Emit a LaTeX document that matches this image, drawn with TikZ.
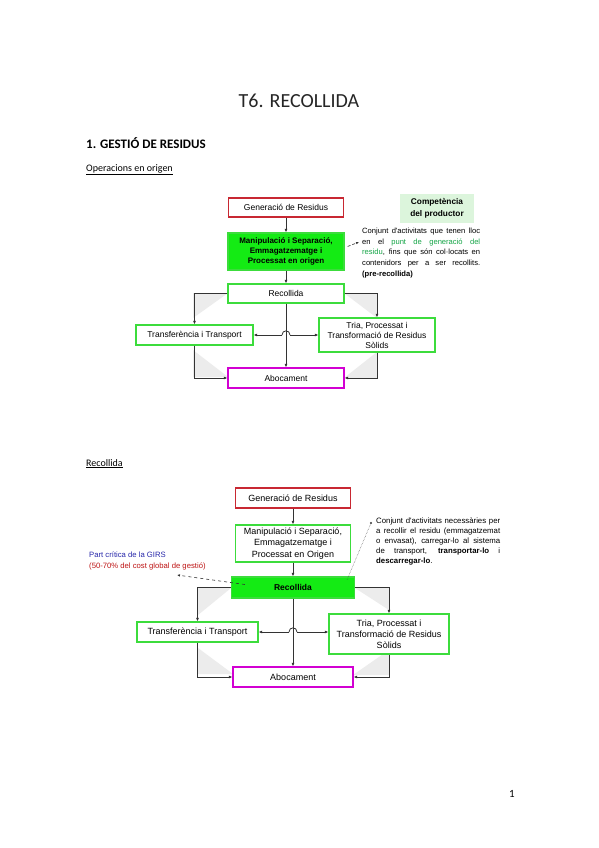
\documentclass[tikz,border=0pt]{standalone}
\usepackage{fontspec}
\setmainfont{Carlito}
\newfontfamily\arialf{Liberation Sans}
\usetikzlibrary{arrows.meta,calc}
\definecolor{bred}{RGB}{200,40,50}
\definecolor{gline}{RGB}{60,220,60}
\definecolor{gfill}{RGB}{20,235,20}
\definecolor{mline}{RGB}{210,0,210}
\definecolor{compfill}{RGB}{220,245,220}
\definecolor{tgreen}{RGB}{20,165,70}
\definecolor{tblue}{RGB}{40,40,170}
\definecolor{tred}{RGB}{190,20,20}
\definecolor{bgshade}{RGB}{236,236,236}
\tikzset{
  box/.style={draw, line width=1.3pt, fill=white, inner sep=0pt, align=center,
    minimum width=116pt, minimum height=19pt},
  fa/.style={font=\arialf\fontsize{8.5}{10}\selectfont},
  fb/.style={font=\arialf\fontsize{9}{11.2}\selectfont},
  redbox/.style={box, draw=bred},
  gbox/.style={box, draw=gline},
  mbox/.style={box, draw=mline},
  comp/.style={fill=compfill, inner sep=0pt, minimum width=74pt, minimum height=29pt,
    align=center, font=\arialf\bfseries\fontsize{8.3}{12}\selectfont},
  para/.style={anchor=north west, inner sep=0pt, align=left},
  conn/.style={draw=black!80, line width=0.8pt},
  arr/.style={conn, -{Latex[length=3.5pt,width=3pt]}},
  darr/.style={draw=black!80, line width=0.6pt, dashed, -{Latex[length=3pt,width=2.5pt]}},
  dotl/.style={draw=black!70, line width=0.5pt, densely dotted},
  corner/.style={fill=bgshade, draw=none},
}
\begin{document}
\begin{tikzpicture}[x=1pt,y=-1pt]
\useasboundingbox (0,0) rectangle (599,848);
\fill[white] (0,0) rectangle (599,848);

% headings
\node[anchor=base, font=\fontsize{20}{24}\selectfont, text=black!85, inner sep=0] (title) at (299,108) {T6. RECOLLIDA};
\node[anchor=base west, font=\bfseries\fontsize{13}{15}\selectfont, inner sep=0] (h1) at (86,148) {1. GESTIÓ DE RESIDUS};
\node[anchor=base west, font=\fontsize{10}{12}\selectfont, inner sep=0] (h2) at (86,171) {\underline{Operacions en origen}};
\node[anchor=base west, font=\fontsize{10}{12}\selectfont, inner sep=0] (h3) at (86,466) {\underline{Recollida}};
\node[anchor=base, font=\fontsize{11}{13}\selectfont, inner sep=0] (pnum) at (512,797) {1};

% ---------- diagram 1 ----------
\path[corner] (193,293) -- (228,293) -- (193,318) -- cycle;
\path[corner] (377,293) -- (344,293) -- (377,318) -- cycle;
\path[corner] (193,377) -- (228,377) -- (193,350) -- cycle;
\path[corner] (377,378) -- (344,378) -- (377,352) -- cycle;

\node[redbox, fa, minimum width=115pt] (gen1) at (286,207.5) {Generació de Residus};
\node[gbox, fill=gfill, font=\arialf\bfseries\fontsize{8}{10}\selectfont, minimum height=37pt] (man1) at (286,251.5) {Manipulació i Separació,\\Emmagatzematge i\\Processat en origen};
\node[gbox, fa] (rec1) at (286,293.5) {Recollida};
\node[gbox, fa, minimum width=117pt, minimum height=20pt] (tra1) at (194.5,335) {Transferència i Transport};
\node[gbox, fa, minimum height=34pt] (tri1) at (377,335) {Tria, Processat i\\Transformació de Residus\\Sòlids};
\node[mbox, fa, minimum height=20pt] (abo1) at (286,378) {Abocament};
\node[comp] (comp1) at (437,208) {Competència\\del productor};
\node[para, font=\arialf\fontsize{7.6}{10.8}\selectfont] (par1) at (362,227.5) {%
\makebox[118pt][s]{Conjunt d'activitats que tenen lloc}\\
\makebox[118pt][s]{en el \textcolor{tgreen}{punt de generació del}}\\
\makebox[118pt][s]{\textcolor{tgreen}{residu}, fins que són col·locats en}\\
\makebox[118pt][s]{contenidors per a ser recollits.}\\
\textbf{(pre-recollida)}};

\draw[arr] (gen1) -- (man1);
\draw[arr] (man1) -- (rec1);
\draw[arr] (rec1) -- (abo1);
\draw[arr] (rec1.west) -| (tra1.north);
\draw[arr] (rec1.east) -| (tri1.north);
\draw[arr] (tra1.south) |- (abo1.west);
\draw[arr] (tri1.south) |- (abo1.east);
\coordinate (hop1) at (286,335);
\draw[arr] ($(hop1)+(-4,0)$) -- (tra1.east |- hop1);
\draw[arr] ($(hop1)+(4,0)$) -- (tri1.west |- hop1);
\draw[conn] ($(hop1)+(-4,0)$) .. controls +(0,-5.5) and +(0,-5.5) .. ($(hop1)+(4,0)$);
\coordinate (d1) at (359,242);
\draw[darr, densely dashed] ($(man1.east)+(3,-5)$) -- (d1);

% ---------- diagram 2 ----------
\path[corner] (198,588) -- (231,588) -- (198,615) -- cycle;
\path[corner] (389,588) -- (355,588) -- (389,610) -- cycle;
\path[corner] (198,674) -- (233,674) -- (198,648) -- cycle;
\path[corner] (389,675) -- (353,675) -- (389,650) -- cycle;

\node[redbox, fb, minimum width=115pt, minimum height=20pt] (gen2) at (293,498) {Generació de Residus};
\node[gbox, fb, minimum width=115pt, minimum height=37pt] (man2) at (293,543.5) {Manipulació i Separació,\\Emmagatzematge i\\Processat en Origen};
\node[gbox, fill=gfill, font=\arialf\bfseries\fontsize{8.5}{10}\selectfont, minimum width=123pt, minimum height=21pt] (rec2) at (293,587.5) {Recollida};
\node[gbox, fb, minimum width=121pt, minimum height=20pt] (tra2) at (197.5,632) {Transferència i Transport};
\node[gbox, fb, minimum width=120pt, minimum height=40pt] (tri2) at (389,634) {Tria, Processat i\\Transformació de Residus\\Sòlids};
\node[mbox, fb, minimum width=120pt, minimum height=20pt] (abo2) at (293,677) {Abocament};
\node[para, font=\arialf\fontsize{7.8}{10}\selectfont] (par2) at (376,518) {%
\makebox[124pt][s]{Conjunt d'activitats necessàries per}\\
\makebox[124pt][s]{a recollir el residu (emmagatzemat}\\
\makebox[124pt][s]{o envasat), carregar-lo al sistema}\\
\makebox[124pt][s]{de transport, \textbf{transportar-lo} i}\\
\textbf{descarregar-lo}.};
\node[para, font=\arialf\fontsize{7.7}{11}\selectfont] (crit) at (89,552) {%
\textcolor{tblue}{Part crítica de la GIRS}\\
\textcolor{tred}{(50-70\% del cost global de gestió)}};

\draw[arr] (gen2) -- (man2);
\draw[arr] (man2) -- (rec2);
\draw[arr] (rec2) -- (abo2);
\draw[arr] (rec2.west) -| (tra2.north);
\draw[arr] (rec2.east) -| (tri2.north);
\draw[arr] (tra2.south) |- (abo2.west);
\draw[arr] (tri2.south) |- (abo2.east);
\coordinate (hop2) at (293,632);
\draw[arr] ($(hop2)+(-4,0)$) -- (tra2.east |- hop2);
\draw[arr] ($(hop2)+(4,0)$) -- (tri2.west |- hop2);
\draw[conn] ($(hop2)+(-4,0)$) .. controls +(0,-5.5) and +(0,-5.5) .. ($(hop2)+(4,0)$);

\coordinate (c2) at (177,575);
\draw[darr] ($(rec2.west)+(14,-3)$) -- (c2);
\coordinate (b2) at (371,523);
\fill[black!80] (b2) circle[radius=1.1];
\draw[dotl] ($(rec2.east)+(-8,-8)$) -- (b2);
\end{tikzpicture}
\end{document}
